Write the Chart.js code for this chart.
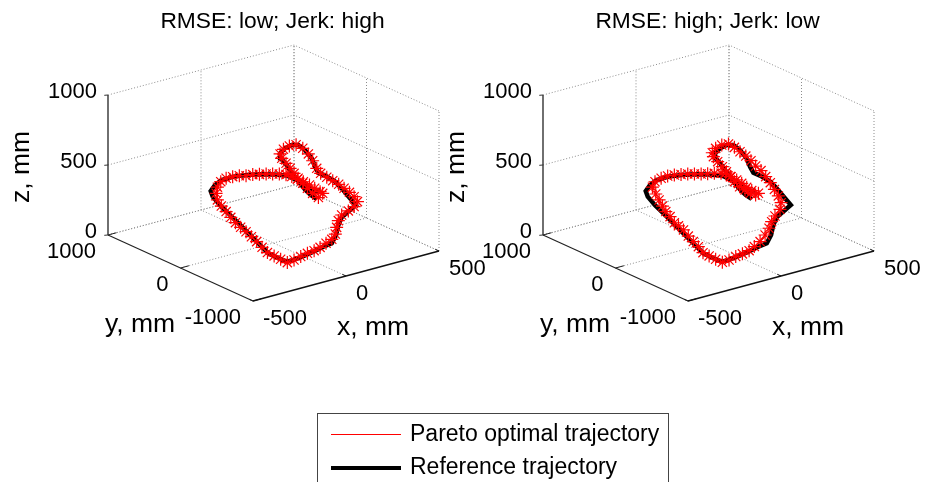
<!DOCTYPE html>
<html lang="en">
<head>
    <meta charset="UTF-8">
    <title>Pareto optimal trajectories</title>
    <script src="https://cdn.jsdelivr.net/npm/chart.js"></script>
    <style>
        html, body { margin: 0; padding: 0; background: #fff; overflow: hidden; }
        body { width: 936px; height: 482px; position: relative; font-family: "Liberation Sans", Arial, sans-serif; }
        canvas { position: absolute; top: 0; }
        #chartLeft { left: 0; }
        #chartRight { left: 435px; }
        .legend-box { position: absolute; left: 317px; top: 413px; width: 352px; height: 90px; border: 1px solid #444; box-sizing: border-box; }
        .legend-row { position: absolute; left: 13px; height: 32px; line-height: 32px; font-size: 23px; color: #000; white-space: nowrap; }
        .legend-row i { display: inline-block; width: 70px; margin-right: 9px; vertical-align: middle; }
    </style>
</head>
<body>
    <canvas id="chartLeft" width="500" height="482"></canvas>
    <canvas id="chartRight" width="501" height="482"></canvas>

    <div class="legend-box">
        <div class="legend-row" style="top: 3px"><i style="border-top: 1px solid #f00"></i>Pareto optimal trajectory</div>
        <div class="legend-row" style="top: 36px"><i style="border-top: 4px solid #000"></i>Reference trajectory</div>
    </div>

    <script>
        const tickX = [-500, 0, 500];
        const tickY = [-1000, 0, 1000];
        const tickZ = [0, 500, 1000];

        const titleLeft = 'RMSE: low; Jerk: high';
        const titleRight = 'RMSE: high; Jerk: low';

        // depth can't be read from one view, so the paths sit in one y plane
        const pathY = -450;

        const referenceX = [57, 25, -6, -33, -60, -86, -113, -137, -140, -113, -77, -42, -6, 30, 48, 66, 111, 156, 191, 236, 267, 236, 191, 173, 161, 138, 93, 39, -15, -68, -104, -149, -203, -257, -310, -355, -409, -463, -502, -513, -490, -454, -391, -319, -248, -176, -104, -51, 3, 48, 78];
        const referenceZ = [400, 440, 491, 544, 601, 658, 716, 760, 796, 823, 834, 821, 772, 700, 634, 585, 541, 489, 428, 341, 282, 258, 221, 173, 106, 55, 47, 30, 18, 10, 10, 50, 105, 196, 286, 362, 452, 542, 616, 660, 695, 718, 720, 706, 685, 659, 626, 574, 519, 456, 457];

        const leftParetoX = [66, 35, 7, -18, -43, -65, -86, -108, -131, -140, -122, -90, -54, -18, 12, 35, 57, 78, 111, 143, 175, 204, 233, 258, 276, 258, 227, 191, 173, 164, 157, 138, 107, 75, 43, 7, -29, -65, -101, -137, -172, -208, -237, -266, -294, -323, -352, -380, -405, -430, -456, -477, -484, -477, -459, -430, -395, -359, -323, -287, -251, -215, -180, -144, -108, -77, -47, -15, 18, 46, 75, 89];
        const leftParetoZ = [407, 448, 494, 539, 584, 627, 670, 714, 758, 792, 819, 831, 827, 789, 738, 681, 619, 576, 536, 500, 463, 424, 385, 345, 303, 274, 254, 238, 204, 159, 114, 83, 66, 48, 36, 30, 20, 8, 2, 39, 75, 112, 160, 211, 256, 302, 344, 387, 434, 484, 533, 584, 634, 675, 708, 722, 721, 715, 702, 697, 686, 676, 663, 650, 633, 608, 578, 549, 514, 481, 446, 429];

        const rightParetoX = [78, 50, 21, -8, -36, -58, -79, -101, -126, -149, -155, -137, -104, -68, -36, -6, 25, 53, 78, 107, 132, 157, 179, 200, 215, 209, 182, 164, 150, 129, 102, 71, 43, 7, -29, -65, -101, -137, -172, -205, -230, -257, -284, -310, -337, -359, -382, -405, -423, -441, -459, -477, -463, -430, -395, -359, -323, -287, -251, -215, -180, -144, -108, -83, -54, -24, 3, 30, 57, 93];
        const rightParetoZ = [421, 443, 478, 511, 557, 601, 643, 687, 732, 776, 806, 831, 843, 838, 802, 760, 718, 675, 628, 585, 533, 481, 425, 371, 317, 272, 234, 200, 158, 117, 80, 55, 36, 26, 20, 8, 4, 39, 75, 110, 162, 208, 257, 310, 349, 379, 431, 475, 521, 571, 620, 675, 709, 722, 726, 720, 711, 702, 689, 676, 665, 655, 643, 634, 599, 565, 531, 493, 460, 428];

        // fixed 3D view, mm to flat view units
        function project(x, y, z) {
            return {
                x: 0.186 * x - 0.0725 * y,
                y: 0.05 * x + 0.033 * y + 0.14 * z
            };
        }

        function lineSet(points, color, width, dash) {
            return {
                data: points.map(p => project(p[0], p[1], p[2])),
                showLine: true,
                borderColor: color,
                borderWidth: width,
                borderDash: dash || [],
                pointRadius: 0,
                order: 5
            };
        }

        function gridSets() {
            const xMax = tickX[2], xMin = tickX[0];
            const yMax = tickY[2], yMin = tickY[0];
            const zTop = tickZ[2];
            const grid = [];
            const color = '#8c8c8c';
            const dash = [1, 2];
            tickX.forEach(x => {
                if (x !== xMin) grid.push(lineSet([[x, yMin, 0], [x, yMax, 0], [x, yMax, zTop]], color, 1, dash));
            });
            tickY.forEach(y => {
                if (y !== yMin) grid.push(lineSet([[xMin, y, 0], [xMax, y, 0]], color, 1, dash));
                grid.push(lineSet([[xMax, y, 0], [xMax, y, zTop]], color, 1, dash));
            });
            tickZ.forEach(z => {
                grid.push(lineSet([[xMin, yMax, z], [xMax, yMax, z], [xMax, yMin, z]], color, 1, dash));
            });
            return grid;
        }

        function axisSets() {
            const axes = [];
            axes.push(lineSet([[-500, 1000, 0], [-500, 1000, 1000]], '#333', 1.4));
            axes.push(lineSet([[-500, 1000, 0], [-500, -1000, 0]], '#222', 1.2));
            axes.push(lineSet([[-500, -1000, 0], [500, -1000, 0]], '#111', 1.6));
            tickZ.forEach(z => axes.push(lineSet([[-500, 1000, z], [-520, 1000, z + 5]], '#333', 1)));
            tickY.forEach(y => axes.push(lineSet([[-500, y, 0], [-455, y, 0]], '#222', 1)));
            tickX.forEach(x => axes.push(lineSet([[x, -1000, 0], [x, -950, 0]], '#111', 1)));
            return axes;
        }

        // titles, tick labels and axis names, anchored on the scales
        const axisText = {
            id: 'axisText',
            afterDatasetsDraw(chart, args, opts) {
                const ctx = chart.ctx;
                const sx = chart.scales.x;
                const sy = chart.scales.y;
                const at = (x, y, z) => {
                    const p = project(x, y, z);
                    return [sx.getPixelForValue(p.x), sy.getPixelForValue(p.y)];
                };
                const put = (text, px, py, align) => {
                    ctx.textAlign = align;
                    ctx.fillText(text, px, py);
                };
                ctx.save();
                ctx.fillStyle = '#000';
                ctx.textBaseline = 'middle';

                ctx.font = '22.8px "Liberation Sans"';
                put(opts.title, 272.5, 22, 'center');

                ctx.font = '22px "Liberation Sans"';
                tickZ.forEach(z => {
                    const p = at(-500, 1000, z);
                    put(String(z), p[0] - 11, p[1] - 3, 'right');
                });
                tickY.forEach(y => {
                    const p = at(-500, y, 0);
                    put(String(y), p[0] - 12, p[1] + 17, 'right');
                });
                tickX.forEach(x => {
                    const p = at(x, -1000, 0);
                    put(String(x), p[0] + 10, p[1] + 18, 'left');
                });

                ctx.font = '26.5px "Liberation Sans"';
                put('y, mm', 140, 325, 'center');
                put('x, mm', 373, 328, 'center');
                ctx.translate(22, 167);
                ctx.rotate(-Math.PI / 2);
                put('z, mm', 0, 0, 'center');
                ctx.restore();
            }
        };

        function drawPanel(canvasId, title, paretoX, paretoZ) {
            const canvas = document.getElementById(canvasId);
            const reference = referenceX.map((x, i) => project(x, pathY, referenceZ[i]));
            const pareto = paretoX.map((x, i) => project(x, pathY, paretoZ[i]));

            new Chart(canvas.getContext('2d'), {
                type: 'scatter',
                data: {
                    datasets: [
                        {
                            label: 'Pareto optimal trajectory',
                            data: pareto,
                            showLine: true,
                            borderColor: '#f00',
                            borderWidth: 1,
                            pointStyle: 'star',
                            pointRadius: 6.5,
                            pointBorderColor: '#f00',
                            pointBorderWidth: 1.2,
                            order: 1
                        },
                        {
                            label: 'Reference trajectory',
                            data: reference,
                            showLine: true,
                            borderColor: '#000',
                            borderWidth: 4.5,
                            pointRadius: 0,
                            order: 2
                        }
                    ].concat(axisSets(), gridSets())
                },
                options: {
                    responsive: false,
                    animation: false,
                    layout: { padding: 0, autoPadding: false },
                    plugins: {
                        legend: { display: false },
                        tooltip: { enabled: false },
                        axisText: { title: title }
                    },
                    scales: {
                        x: { type: 'linear', display: false, min: -273.5, max: canvas.width - 273.5 },
                        y: { type: 'linear', display: false, min: 243 - 482, max: 243 }
                    }
                },
                plugins: [axisText]
            });
        }

        drawPanel('chartLeft', titleLeft, leftParetoX, leftParetoZ);
        drawPanel('chartRight', titleRight, rightParetoX, rightParetoZ);
    </script>
</body>
</html>
